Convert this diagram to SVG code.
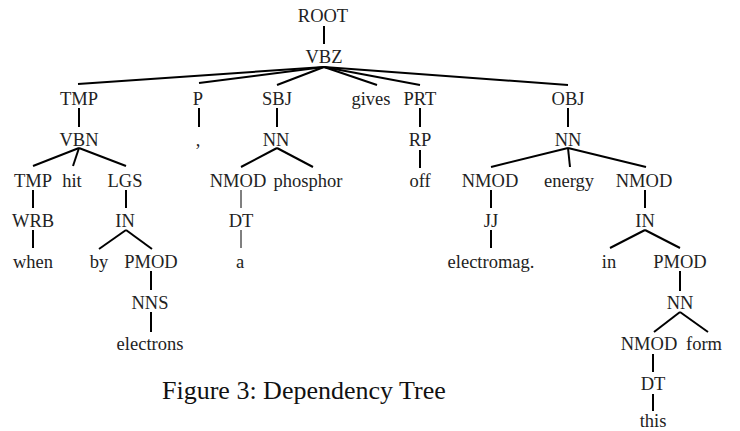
<svg xmlns="http://www.w3.org/2000/svg" width="740" height="431" viewBox="0 0 740 431">
<style>
text{font-family:"Liberation Serif","DejaVu Serif","Times New Roman",serif;font-size:18.5px;fill:#222;text-anchor:middle}
.cap{font-size:26px;text-anchor:start;fill:#111}
.e line{stroke:#000;stroke-width:2;stroke-linecap:butt}
.e line.t{stroke-width:1}
</style>
<rect width="740" height="431" fill="#fff"/>
<g class="e" id="connectors">
<line x1="324" y1="26" x2="324" y2="44"/>
<line x1="324" y1="67" x2="78" y2="84"/>
<line x1="324" y1="67" x2="199" y2="83"/>
<line x1="324" y1="67" x2="277" y2="85"/>
<line x1="324" y1="67" x2="377" y2="85"/>
<line x1="324" y1="67" x2="420" y2="85"/>
<line x1="324" y1="67" x2="568" y2="85"/>
<line x1="79" y1="108" x2="79" y2="127"/>
<line x1="199" y1="108" x2="199" y2="127"/>
<line x1="277" y1="108" x2="277" y2="127"/>
<line x1="420" y1="108" x2="420" y2="127"/>
<line x1="568" y1="108" x2="568" y2="127"/>
<line x1="79" y1="148" x2="33" y2="166"/>
<line x1="79" y1="148" x2="73" y2="166"/>
<line x1="79" y1="148" x2="126" y2="166"/>
<line x1="277" y1="148" x2="241" y2="167"/>
<line x1="277" y1="148" x2="313" y2="167"/>
<line x1="420" y1="150" x2="420" y2="168"/>
<line x1="568" y1="148" x2="491" y2="167"/>
<line x1="568" y1="148" x2="570" y2="167"/>
<line x1="568" y1="148" x2="646" y2="167"/>
<line x1="33" y1="190" x2="33" y2="208"/>
<line x1="126" y1="190" x2="126" y2="208"/>
<line class="t" x1="241" y1="190" x2="241" y2="208"/>
<line x1="491" y1="190" x2="491" y2="208"/>
<line x1="645" y1="190" x2="645" y2="208"/>
<line x1="33" y1="230" x2="33" y2="248"/>
<line x1="126" y1="230" x2="99" y2="249"/>
<line x1="126" y1="230" x2="152" y2="249"/>
<line class="t" x1="241" y1="230" x2="241" y2="248"/>
<line x1="491" y1="230" x2="491" y2="248"/>
<line x1="645" y1="230" x2="610" y2="248"/>
<line x1="645" y1="230" x2="680" y2="248"/>
<line x1="151" y1="271" x2="151" y2="290"/>
<line x1="680" y1="271" x2="680" y2="291"/>
<line x1="151" y1="312" x2="151" y2="332"/>
<line x1="680" y1="312" x2="654" y2="332"/>
<line x1="680" y1="312" x2="708" y2="332"/>
<line x1="653" y1="354" x2="653" y2="372"/>
<line x1="653" y1="394" x2="653" y2="411"/>
</g>
<g id="root"><text x="323" y="22">ROOT</text></g>
<g id="vbz"><text x="324" y="63">VBZ</text></g>
<g id="tmp"><text x="79" y="104.5">TMP</text></g>
<g id="p"><text x="198" y="104.5">P</text></g>
<g id="sbj"><text x="277" y="104.5">SBJ</text></g>
<g id="gives"><text x="371" y="104.5">gives</text></g>
<g id="prt"><text x="420" y="104.5">PRT</text></g>
<g id="obj"><text x="568" y="104.5">OBJ</text></g>
<g id="vbn"><text x="79" y="146">VBN</text></g>
<g id="comma"><text x="198" y="146">,</text></g>
<g id="nn1"><text x="276" y="146">NN</text></g>
<g id="rp"><text x="420" y="146">RP</text></g>
<g id="nn2"><text x="568" y="146">NN</text></g>
<g id="tmp2"><text x="33" y="187">TMP</text></g>
<g id="hit"><text x="72" y="187">hit</text></g>
<g id="lgs"><text x="125" y="187">LGS</text></g>
<g id="nmod1"><text x="238" y="187">NMOD</text></g>
<g id="phosphor"><text x="308" y="187">phosphor</text></g>
<g id="off"><text x="420" y="187">off</text></g>
<g id="nmod2"><text x="490" y="187">NMOD</text></g>
<g id="energy"><text x="569" y="187">energy</text></g>
<g id="nmod3"><text x="644" y="187">NMOD</text></g>
<g id="wrb"><text x="33" y="227">WRB</text></g>
<g id="in1"><text x="125" y="227">IN</text></g>
<g id="dt1"><text x="241" y="227">DT</text></g>
<g id="jj"><text x="491" y="227">JJ</text></g>
<g id="in2"><text x="645" y="227">IN</text></g>
<g id="when"><text x="33" y="268">when</text></g>
<g id="by"><text x="99" y="268">by</text></g>
<g id="pmod1"><text x="151" y="268">PMOD</text></g>
<g id="a"><text x="240" y="268">a</text></g>
<g id="electromag"><text x="491" y="268">electromag.</text></g>
<g id="in"><text x="609" y="268">in</text></g>
<g id="pmod2"><text x="680" y="268">PMOD</text></g>
<g id="nns"><text x="150" y="309">NNS</text></g>
<g id="nn3"><text x="680" y="309">NN</text></g>
<g id="electrons"><text x="150" y="350">electrons</text></g>
<g id="nmod4"><text x="649" y="350">NMOD</text></g>
<g id="form"><text x="704" y="350">form</text></g>
<g id="dt2"><text x="653" y="390">DT</text></g>
<g id="this"><text x="653" y="427">this</text></g>
<g id="caption"><text class="cap" x="162" y="399">Figure 3: Dependency Tree</text></g>
</svg>
